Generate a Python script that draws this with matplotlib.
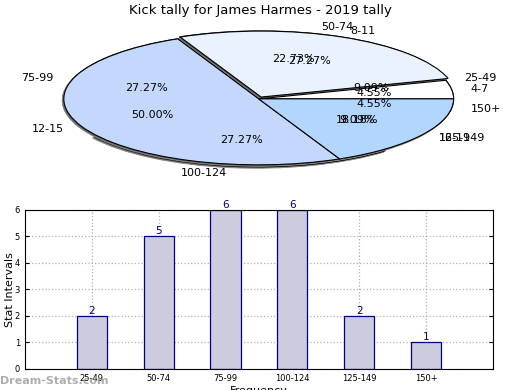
import matplotlib
matplotlib.use("Agg")
import matplotlib.pyplot as plt

title = "Kick tally for James Harmes - 2019 tally"

# kick tally intervals
kickBins = ["25-49", "50-74", "75-99", "100-124", "125-149", "150+"]
kickCounts = [2, 5, 6, 6, 2, 1]

# second tally drawn over the first one
otherBins = ["4-7", "8-11", "12-15", "16-19"]
otherCounts = [1, 6, 11, 4]

pieColors1 = ["#ffffff", "#eaf2ff", "#c4d8fe", "#c4d8fe", "#b3d6ff", "#b3d6ff"]
pieColors2 = ["#ffffff", "#eaf2ff", "#c4d8fe", "#b3d6ff"]


def drawPie(ax, counts, labels, colors, explode):
    # simple shadow: a gray copy slightly down/left
    ax.pie(counts, explode=explode, center=(-0.008, -0.022),
           colors=["#666666"] * len(counts),
           wedgeprops={"edgecolor": "#888888", "linewidth": 0.6})
    ax.pie(counts, labels=labels, colors=colors, explode=explode,
           autopct="%1.2f%%",
           wedgeprops={"edgecolor": "black", "linewidth": 0.8},
           textprops={"fontsize": 8})


def main():
    fig = plt.figure(figsize=(5.2, 3.9), dpi=100)

    pieAx = fig.add_axes([0.029, 0.535, 0.937, 0.423])
    drawPie(pieAx, kickCounts, kickBins, pieColors1, [0, 0.03, 0, 0.03, 0, 0])
    drawPie(pieAx, otherCounts, otherBins, pieColors2, [0, 0.03, 0, 0])
    pieAx.set_aspect("auto")
    pieAx.set_xlim(-1.25, 1.25)
    pieAx.set_ylim(-1.25, 1.25)
    fig.text(0.5, 0.973, title, ha="center", va="center", fontsize=9.5)

    barAx = fig.add_axes([0.048, 0.054, 0.9, 0.408])
    xs = range(len(kickBins))
    barAx.bar(xs, kickCounts, width=0.45, color="#ccccdf",
              edgecolor="#000080", linewidth=0.9, zorder=2)
    for x, c in zip(xs, kickCounts):
        barAx.text(x, c, str(c), ha="center", va="bottom",
                   color="#000080", fontsize=7.5, zorder=3)
    barAx.set_xlim(-1, 6)
    barAx.set_ylim(0, 6)
    barAx.set_xticks(list(xs))
    barAx.set_xticklabels(kickBins)
    barAx.tick_params(labelsize=6, direction="in", right=True, length=3)
    barAx.grid(True, linestyle=":", color="#b0b0b0", linewidth=0.9, zorder=0)
    barAx.set_axisbelow(True)
    barAx.set_ylabel("Stat Intervals", fontsize=8)
    barAx.yaxis.set_label_coords(-0.022, 0.5)
    barAx.set_xlabel("Frequency", fontsize=8, labelpad=2)

    fig.text(0.0, 0.022, "Dream-Stats.com", fontsize=8, color="#999999",
             fontweight="bold", ha="left", va="center", alpha=0.8)

    fig.savefig("out.png", dpi=100)


if __name__ == '__main__':
    main()
